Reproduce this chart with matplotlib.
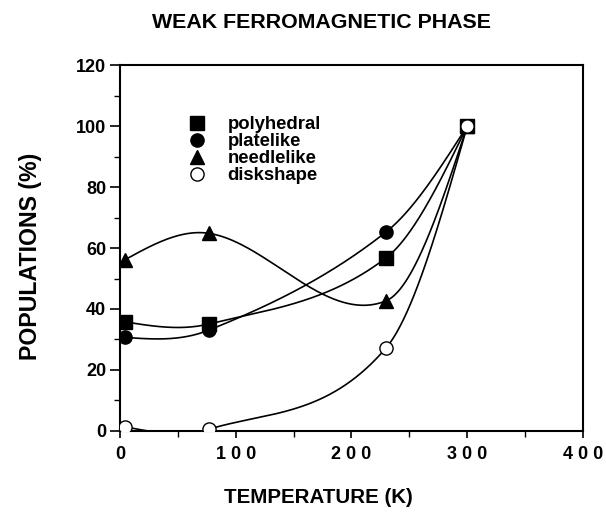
import numpy as np
import matplotlib
matplotlib.use("Agg")
import matplotlib.pyplot as plt
from matplotlib.ticker import MultipleLocator
from matplotlib.lines import Line2D

plt.rcParams['font.family'] = ['Liberation Sans', 'DejaVu Sans']
plt.rcParams['font.weight'] = 'bold'

temperature = [4, 77, 230, 300]
polyhedral = [35.8, 35.1, 56.8, 100.0]
platelike = [30.7, 33.1, 65.3, 100.0]
needlelike = [56.1, 64.8, 42.7, 100.0]
diskshape = [1.4, 0.6, 27.3, 100.0]

series_names = ['polyhedral', 'platelike', 'needlelike', 'diskshape']
xtick_labels = ['0', '1 0 0', '2 0 0', '3 0 0', '4 0 0']
ytick_labels = ['0', '20', '40', '60', '80', '100', '120']


def smooth_curve(x, y, n=400):
    """Cubic Hermite (Catmull-Rom style) smoothing through the points."""
    x = np.asarray(x, float)
    y = np.asarray(y, float)
    m = len(x)
    d = np.diff(y) / np.diff(x)
    t = np.zeros(m)
    for i in range(1, m - 1):
        t[i] = (y[i + 1] - y[i - 1]) / (x[i + 1] - x[i - 1])
    t[0] = (3 * d[0] - t[1]) / 2
    t[-1] = (3 * d[-1] - t[-2]) / 2
    xs = np.linspace(x[0], x[-1], n)
    ys = np.empty_like(xs)
    for k, xv in enumerate(xs):
        i = min(np.searchsorted(x, xv, side='right') - 1, m - 2)
        h = x[i + 1] - x[i]
        s = (xv - x[i]) / h
        h00 = 2 * s ** 3 - 3 * s ** 2 + 1
        h10 = s ** 3 - 2 * s ** 2 + s
        h01 = -2 * s ** 3 + 3 * s ** 2
        h11 = s ** 3 - s ** 2
        ys[k] = h00 * y[i] + h10 * h * t[i] + h01 * y[i + 1] + h11 * h * t[i + 1]
    return xs, ys


fig = plt.figure(figsize=(6.06, 5.14), dpi=100)
ax = fig.add_axes([0.198, 0.1615, 0.764, 0.712])

styles = [
    dict(marker='s', mfc='black', mec='black', ms=9.5),
    dict(marker='o', mfc='black', mec='black', ms=9.5),
    dict(marker='^', mfc='black', mec='black', ms=10.5),
    dict(marker='o', mfc='white', mec='black', ms=9.5, mew=1.0),
]
data = [polyhedral, platelike, needlelike, diskshape]

for vals in data:
    xs, ys = smooth_curve(temperature, vals)
    ax.plot(xs, ys, color='black', lw=1.2, zorder=2)

handles = []
for vals, st, name in zip(data, styles, series_names):
    ax.plot(temperature, vals, linestyle='none', zorder=3, **st)
    handles.append(Line2D([], [], linestyle='none', label=name, **st))

ax.set_xlim(0, 400)
ax.set_ylim(0, 120)
ax.set_xticks([0, 100, 200, 300, 400])
ax.set_xticklabels(xtick_labels)
ax.set_yticks([0, 20, 40, 60, 80, 100, 120])
ax.set_yticklabels(ytick_labels)
ax.xaxis.set_minor_locator(MultipleLocator(50))
ax.yaxis.set_minor_locator(MultipleLocator(10))
ax.tick_params(which='major', direction='out', length=7, width=1.2, labelsize=13, pad=3)
ax.tick_params(which='minor', direction='out', length=4, width=1.0)
ax.tick_params(axis='x', which='major', length=5, pad=6)
for lab in ax.get_xticklabels() + ax.get_yticklabels():
    lab.set_fontweight('bold')
for sp in ax.spines.values():
    sp.set_linewidth(1.5)

leg = ax.legend(handles=handles, loc='upper left', bbox_to_anchor=(0.147, 0.860),
                frameon=False, prop={'weight': 'bold', 'size': 13.3},
                labelspacing=0.0, handletextpad=1.13, handlelength=1.0,
                borderaxespad=0, borderpad=0)

fig.text(0.53, 0.957, 'WEAK FERROMAGNETIC PHASE', ha='center', va='center',
         fontsize=15.4, fontweight='bold')
fig.text(0.525, 0.033, 'TEMPERATURE (K)', ha='center', va='center',
         fontsize=14.8, fontweight='bold')
fig.text(0.051, 0.502, 'POPULATIONS (%)', ha='center', va='center',
         rotation=90, fontsize=16.7, fontweight='bold')

fig.savefig('out.png', dpi=100)
